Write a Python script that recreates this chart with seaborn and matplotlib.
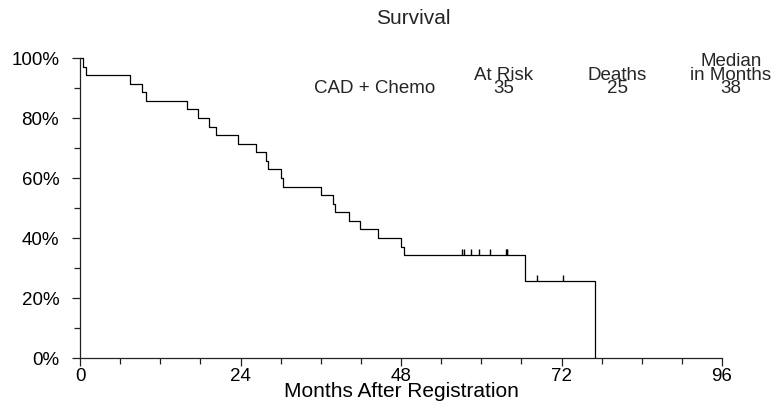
import matplotlib
matplotlib.use("Agg")
import matplotlib.pyplot as plt
import seaborn as sns
import numpy as np
import pandas as pd

# step times (months) and survival (%)
event_months = [0, 0.5, 0.9, 7.5, 9.2, 9.9, 16.0, 17.6, 19.3, 20.4, 23.7, 26.3, 27.8, 28.1,
                30.0, 30.4, 36.1, 37.9, 38.2, 40.2, 41.9, 44.6, 48.0, 48.5, 66.6, 77.0]
survival_pct = [100, 97.1, 94.3, 91.4, 88.6, 85.7, 82.9, 80.0, 77.1, 74.3, 71.4, 68.6, 65.7, 62.9,
                60.0, 57.1, 54.3, 51.4, 48.6, 45.7, 42.9, 40.0, 37.1, 34.3, 25.7, 0]

# censored patients
censor_months = [57.1, 57.4, 58.5, 59.7, 61.3, 63.7, 63.8, 63.9, 68.4, 72.2]
censor_pct = [34.3, 34.3, 34.3, 34.3, 34.3, 34.3, 34.3, 34.3, 25.7, 25.7]

group_name = "CAD + Chemo"
at_risk = 35
deaths = 25
median_months = 38

x_ticks = [0, 24, 48, 72, 96]
y_ticks = [0, 20, 40, 60, 80, 100]
y_tick_labels = ["0%", "20%", "40%", "60%", "80%", "100%"]

sns.set_style("ticks")
plt.rcParams['font.family'] = ['Liberation Sans', 'DejaVu Sans']

fig = plt.figure(figsize=(7.8, 4.11), dpi=100)
ax = fig.add_axes([80 / 780, 1 - 358 / 411, 642 / 780, 300 / 411])

df = pd.DataFrame({"month": event_months, "surv": survival_pct})
sns.lineplot(x="month", y="surv", data=df, drawstyle="steps-post", color="black",
             linewidth=0.9, ax=ax, clip_on=False)
ax.plot(censor_months, censor_pct, linestyle="none", marker=2, markersize=4.5,
        markeredgewidth=1.0, color="black", clip_on=False)

ax.set_xlim(0, 96)
ax.set_ylim(0, 100)
ax.set_xticks(x_ticks)
ax.set_xticks(np.arange(0, 97, 6), minor=True)
ax.set_yticks(y_ticks)
ax.set_yticks(np.arange(10, 100, 20), minor=True)
ax.set_yticklabels(y_tick_labels)
ax.tick_params(axis="both", which="major", length=6, width=0.9, color="#222222",
               labelsize=13.5, labelcolor="black")
ax.tick_params(axis="both", which="minor", length=4, width=0.9, color="#222222")
ax.tick_params(axis="x", pad=1)
ax.tick_params(axis="y", pad=9)
sns.despine(ax=ax)
for sp in ["left", "bottom"]:
    ax.spines[sp].set_linewidth(0.9)
    ax.spines[sp].set_color("#222222")

ax.set_xlabel("Months After Registration", fontsize=15, labelpad=-2, color="black")
ax.set_ylabel("")

fig.text(413 / 780, 1 - 18 / 411, "Survival", ha="center", va="center", fontsize=15)

hdr = dict(ha="center", va="center", fontsize=13.5, linespacing=0.85)
ax.text(44.1, 89.7, group_name, **hdr)
ax.text(63.4, 94.3, "At Risk", **hdr)
ax.text(63.4, 89.7, str(at_risk), **hdr)
ax.text(80.3, 94.3, "Deaths", **hdr)
ax.text(80.3, 89.7, str(deaths), **hdr)
ax.text(97.3, 98.7, "Median", clip_on=False, **hdr)
ax.text(97.3, 94.3, "in Months", clip_on=False, **hdr)
ax.text(97.3, 89.7, str(median_months), clip_on=False, **hdr)

fig.savefig("out.png", dpi=100)
